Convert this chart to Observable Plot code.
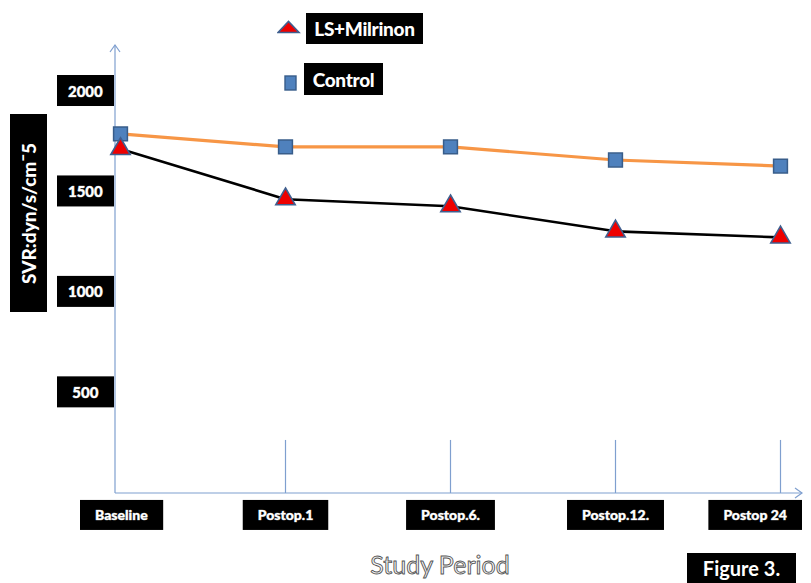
<!DOCTYPE html>
<html><head><meta charset="utf-8">
<script src="https://cdn.jsdelivr.net/npm/d3@7"></script>
<script src="https://cdn.jsdelivr.net/npm/@observablehq/plot@0.6"></script>
<style>
body{margin:0;background:#fff;}
#wrap{position:relative;width:811px;height:583px;overflow:hidden;font-family:Lato,"Open Sans",sans-serif;}
#wrap svg{position:absolute;left:0;top:0;}
.blk{position:absolute;background:#000;color:#fff;font-weight:900;display:flex;align-items:center;justify-content:center;white-space:nowrap;}
#ylab{left:10px;top:114px;width:37px;height:198px;font-size:19px;}
#ylab span{display:block;transform:rotate(-90deg);}
#leg1{left:306px;top:13px;width:117px;height:31px;font-size:19px;letter-spacing:-0.3px;}
#leg2{left:304px;top:63px;width:79px;height:32px;font-size:19px;letter-spacing:-0.3px;}
#fig{left:687px;top:553px;width:109px;height:30px;font-size:20px;font-weight:bold;}
#xlab{position:absolute;left:320px;width:240px;top:549px;text-align:center;font-size:25px;color:#f8f8f8;-webkit-text-stroke:0.9px #555;font-family:Lato,sans-serif;}
.sym{position:absolute;}
</style></head><body><div id="wrap"></div>
<script>
// ---- data ----
const periods = ["Baseline", "Postop.1", "Postop.6.", "Postop.12.", "Postop 24"];
const controlValues = [1790, 1725, 1725, 1660, 1630];
const lsValues = [1715, 1465, 1430, 1305, 1275];
const yTicks = [500, 1000, 1500, 2000];
const seriesNames = ["LS+Milrinon", "Control"];
const yTitle = "SVR:dyn/s/cm¯5";
const xTitle = "Study Period";
const figureLabel = "Figure 3.";

const control = periods.map((p, i) => ({period: p, value: controlValues[i]}));
const ls = periods.map((p, i) => ({period: p, value: lsValues[i]}));

const axisColor = "#7f9fcf";

function axesLines(index, scales, values, dimensions) {
  const {width, marginLeft, marginRight, marginTop} = dimensions;
  const x0 = marginLeft, x1 = width - marginRight, y0 = scales.y(0), yt = marginTop;
  const g = d3.create("svg:g").attr("fill", "none").attr("stroke", axisColor).attr("stroke-width", 1.2);
  g.append("line").attr("x1", x0).attr("x2", x0).attr("y1", y0).attr("y2", yt);
  g.append("path").attr("d", `M${x0-5},${yt+7}L${x0},${yt}L${x0+5},${yt+7}`);
  g.append("line").attr("x1", x0).attr("x2", x1).attr("y1", y0).attr("y2", y0);
  g.append("path").attr("d", `M${x1-7},${y0-5}L${x1},${y0}L${x1-7},${y0+5}`);
  return g.node();
}

const chart = Plot.plot({
  width: 811, height: 583,
  marginLeft: 115, marginRight: 9, marginTop: 45, marginBottom: 90,
  x: {type: "point", domain: periods, range: [118, 781], padding: 0},
  y: {domain: [0, 2230]},
  style: {fontFamily: "Lato, sans-serif", background: "transparent"},
  marks: [
    Plot.ruleX(periods.slice(1), {y1: 0, y2: 264, stroke: axisColor, strokeWidth: 1.2}),
    axesLines,
    Plot.axisX({tickSize: 0, tickPadding: 17, fontSize: 14, fontWeight: 900, fill: "white", label: null}),
    Plot.axisY(yTicks, {tickSize: 0, tickPadding: 12, fontSize: 15, fontWeight: 900, fill: "white", label: null, tickFormat: d => String(d)}),
    Plot.line(control, {x: "period", y: "value", stroke: "#f79646", strokeWidth: 3.2}),
    Plot.line(ls, {x: "period", y: "value", stroke: "#000", strokeWidth: 2.6}),
    Plot.dot(control, {x: "period", y: "value", symbol: "square", r: 7.8, fill: "#4f81bd", stroke: "#385d8a", strokeWidth: 1.5}),
    Plot.dot(ls, {x: "period", y: "value", symbol: "triangle", r: 7.2, fill: "#ee0000", stroke: "#3f5f8f", strokeWidth: 1.6})
  ]
});

const wrap = document.getElementById("wrap");
wrap.appendChild(chart);

// boxes behind tick labels
const ns = "http://www.w3.org/2000/svg";
const boxLayer = document.createElementNS(ns, "g");
chart.insertBefore(boxLayer, chart.firstChild.nextSibling);
function labelTexts(axis) {
  return Array.from(chart.querySelectorAll(`g[aria-label="${axis}-axis tick label"] text`));
}
const svgRect = chart.getBoundingClientRect();
labelTexts("x").forEach(t => {
  t.setAttribute("stroke", "#999"); t.setAttribute("stroke-width", "0.7"); t.setAttribute("paint-order", "stroke");
  const b = t.getBoundingClientRect();
  const w = b.width + 30, h = 30;
  let left = b.left - svgRect.left + b.width / 2 - w / 2;
  let shift = 0;
  if (left < 80) shift = 80 - left;
  if (left + w > 802) shift = 802 - (left + w);
  if (shift) t.setAttribute("dx", shift);
  left += shift;
  const cy = b.top - svgRect.top + b.height / 2;
  const r = document.createElementNS(ns, "rect");
  r.setAttribute("x", left); r.setAttribute("y", cy - h / 2);
  r.setAttribute("width", w); r.setAttribute("height", h); r.setAttribute("fill", "#000");
  boxLayer.appendChild(r);
});
labelTexts("y").forEach(t => {
  t.setAttribute("stroke", "#999"); t.setAttribute("stroke-width", "0.7"); t.setAttribute("paint-order", "stroke");
  const b = t.getBoundingClientRect();
  const w = 57, h = 31;
  const right = 114;
  const cy = b.top - svgRect.top + b.height / 2;
  const cx = right - w / 2;
  t.setAttribute("dx", cx - (b.left - svgRect.left + b.width / 2));
  const r = document.createElementNS(ns, "rect");
  r.setAttribute("x", right - w); r.setAttribute("y", cy - h / 2);
  r.setAttribute("width", w); r.setAttribute("height", h); r.setAttribute("fill", "#000");
  boxLayer.appendChild(r);
});

// titles and legend (HTML overlays)
function add(html) { wrap.insertAdjacentHTML("beforeend", html); }
add(`<div class="blk" id="ylab"><span>${yTitle}</span></div>`);
add(`<svg class="sym" style="left:277px;top:20px" width="24" height="14"><path d="M1,12.5L11.5,1.5L22,12.5Z" fill="#ee0000" stroke="#3f5f8f" stroke-width="1.6"/></svg>`);
add(`<div class="blk" id="leg1">${seriesNames[0]}</div>`);
add(`<svg class="sym" style="left:284px;top:75px" width="14" height="17"><rect x="1" y="1" width="11" height="14" fill="#4f81bd" stroke="#385d8a" stroke-width="1.4"/></svg>`);
add(`<div class="blk" id="leg2">${seriesNames[1]}</div>`);
add(`<div id="xlab">${xTitle}</div>`);
add(`<div class="blk" id="fig">${figureLabel}</div>`);
</script>
</body></html>
